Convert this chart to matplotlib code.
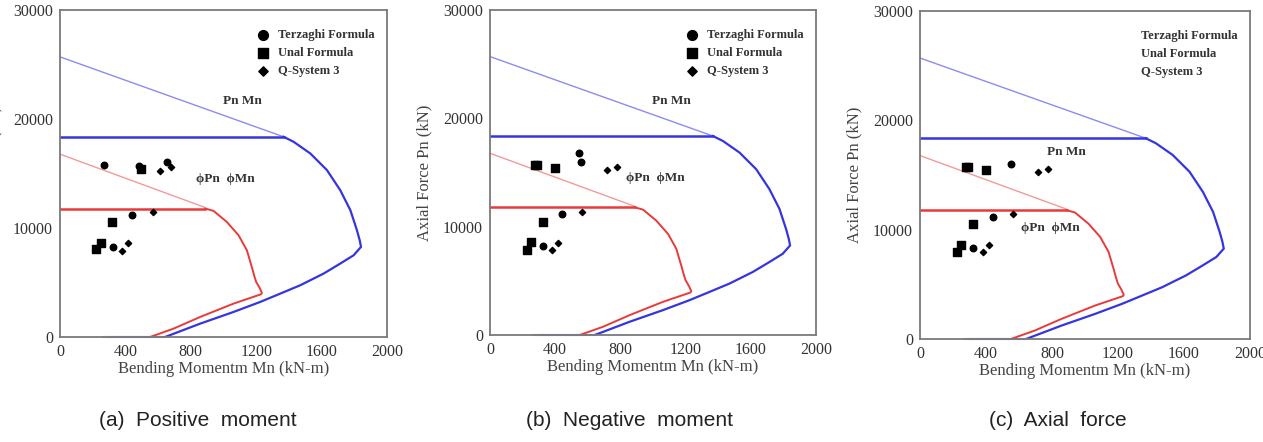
#! /usr/bin/env python3

import matplotlib
matplotlib.use("Agg")
import matplotlib.pyplot as plt

plt.rcParams['font.family'] = ['Liberation Serif', 'DejaVu Serif']

# nominal interaction curve (Pn - Mn)
pn_thin_m = [0, 1367]
pn_thin_p = [25700, 18370]
pn_cap_m = [0, 1367]
pn_cap_p = [18370, 18370]
pn_curve_m = [1367, 1429, 1531, 1633, 1714, 1776, 1816, 1833, 1841, 1796, 1714,
              1612, 1469, 1347, 1224, 1061, 857, 643]
pn_curve_p = [18370, 17908, 16837, 15306, 13469, 11633, 9796, 8877, 8265, 7500, 6735,
              5816, 4745, 3980, 3214, 2296, 1224, 0]
pn_base_m = [643, 306]
pn_base_p = [0, 0]

# design interaction curve (phiPn - phiMn)
phi_thin_m = [0, 888]
phi_thin_p = [16776, 11878]
phi_cap_m = [0, 888]
phi_cap_p = [11786, 11786]
phi_curve_m = [888, 939, 1020, 1092, 1143, 1173, 1190, 1200, 1220, 1235, 1229,
               1061, 857, 694, 551]
phi_curve_p = [11786, 11571, 10561, 9337, 7959, 6429, 5510, 5051, 4531, 4041, 3918,
               3061, 1837, 765, 0]
phi_base_m = [551, 265]
phi_base_p = [0, 0]

# measured points, one dict per panel
panels = [
    dict(terz_m=[271, 483, 656, 438, 322], terz_p=[15780, 15720, 16030, 11190, 8290],
         unal_m=[497, 316, 249, 220], unal_p=[15410, 10550, 8650, 8050],
         q_m=[612, 677, 567, 418, 377], q_p=[15230, 15570, 11470, 8600, 7920]),
    dict(terz_m=[548, 558, 444, 327], terz_p=[16800, 16000, 11130, 8200],
         unal_m=[276, 290, 401, 323, 252, 225], unal_p=[15690, 15690, 15450, 10450, 8570, 7860],
         q_m=[720, 781, 566, 419, 382], q_p=[15230, 15540, 11380, 8520, 7860]),
    dict(terz_m=[553, 440, 323], terz_p=[16050, 11180, 8320],
         unal_m=[279, 290, 398, 319, 248, 222], unal_p=[15720, 15720, 15440, 10510, 8590, 7920],
         q_m=[713, 776, 564, 418, 380], q_p=[15260, 15560, 11450, 8620, 7920]),
]

pn_label_pos = [(1114, 21640), (1115, 21610), (889, 17060)]
phi_label_pos = [(1014, 14510), (1014, 14520), (788, 10140)]

captions = ["(a)  Positive  moment", "(b)  Negative  moment", "(c)  Axial  force"]
caption_x = [198, 630, 1058]

xticks = [0, 400, 800, 1200, 1600, 2000]
yticks = [0, 10000, 20000, 30000]

# axes boxes in pixels: left, top, right, bottom
W, H = 1263, 442
boxes = [(60, 10, 387, 337), (490, 10, 816, 335), (920, 11, 1250, 339)]

blue = '#3535e0'
blue_light = '#8c8cf0'
red = '#e83a3a'
red_light = '#f29a9a'
grey_txt = '#333333'

fig = plt.figure(figsize=(W / 100, H / 100), dpi=100)

for i, (l, t, r, b) in enumerate(boxes):
    w, h = r - l, b - t
    ax = fig.add_axes([l / W, (H - b) / H, w / W, h / H])
    d = panels[i]

    ax.plot(phi_base_m, phi_base_p, color=red_light, lw=1.5, clip_on=False)
    ax.plot(pn_base_m, pn_base_p, color=blue_light, lw=1.5, clip_on=False)
    ax.plot(pn_thin_m, pn_thin_p, color=blue_light, lw=1.0)
    ax.plot(pn_cap_m, pn_cap_p, color=blue, lw=1.8)
    ax.plot(pn_curve_m, pn_curve_p, color=blue, lw=1.6)
    ax.plot(phi_thin_m, phi_thin_p, color=red_light, lw=1.0)
    ax.plot(phi_cap_m, phi_cap_p, color=red, lw=1.8)
    ax.plot(phi_curve_m, phi_curve_p, color=red, lw=1.4)

    ax.scatter(d['terz_m'], d['terz_p'], marker='o', s=22, color='black', label='Terzaghi Formula', zorder=5)
    ax.scatter(d['unal_m'], d['unal_p'], marker='s', s=26, color='black', label='Unal Formula', zorder=5)
    ax.scatter(d['q_m'], d['q_p'], marker='D', s=10, color='black', label='Q-System 3', zorder=5)

    ax.text(*pn_label_pos[i], 'Pn Mn', ha='center', va='center', fontsize=9.5,
            fontweight='bold', color=grey_txt)
    ax.text(*phi_label_pos[i], 'ϕPn  ϕMn', ha='center', va='center', fontsize=9.5,
            fontweight='bold', color=grey_txt)

    leg = ax.legend(loc='upper right', bbox_to_anchor=(1 - 7 / w, 1 - 14 / h),
                    frameon=False, markerscale=1.5, borderaxespad=0,
                    handletextpad=0.2, labelspacing=0.5,
                    prop={'weight': 'bold', 'size': 9})
    for txt in leg.get_texts():
        txt.set_color(grey_txt)
    if i == 2:
        for hd in leg.legend_handles:
            hd.set_visible(False)

    ax.set_xlim(0, 2000)
    ax.set_ylim(0, 30000)
    ax.set_xticks(xticks)
    ax.set_yticks(yticks)
    ax.tick_params(length=0, pad=5, labelsize=11.5, colors=grey_txt)
    for s in ax.spines.values():
        s.set_color('#7a7a7a')
        s.set_linewidth(1.3)

    ax.set_xlabel('Bending Momentm Mn (kN-m)', fontsize=12, color='#444444', labelpad=1)
    ax.set_ylabel('Axial Force Pn (kN)', fontsize=12, color='#444444')
    ax.yaxis.set_label_coords(-58 / w, 0.5)

    fig.text(caption_x[i] / W, 1 - 420 / H, captions[i], ha='center', va='center',
             fontsize=15, family='Liberation Sans', color='#222222')

plt.savefig("out.png", dpi=100)
